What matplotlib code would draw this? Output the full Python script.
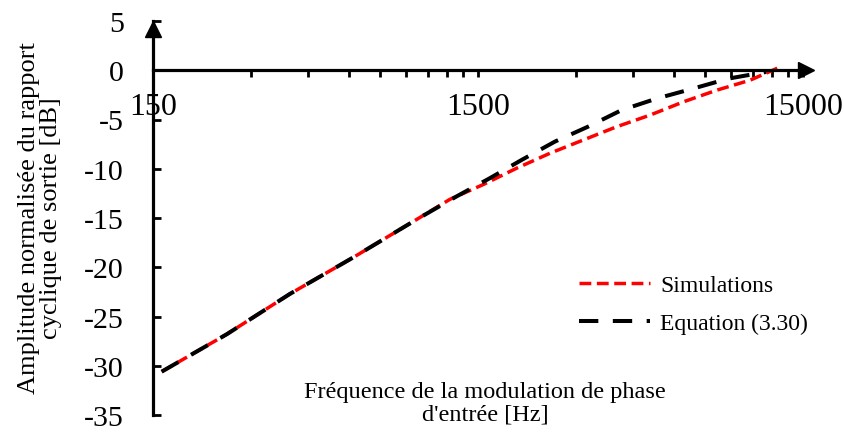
import matplotlib
matplotlib.use("Agg")
import matplotlib.pyplot as plt
from matplotlib.ticker import FixedLocator, NullFormatter

# values
freq_sim = [159.5, 253, 396, 620, 971, 1230, 1558, 1974, 2500, 3168, 4010, 5079, 6438, 8149, 10311, 12750]
amp_sim = [-30.6, -26.8, -22.7, -19.0, -15.15, -13.1, -11.6, -9.94, -8.42, -7.07, -5.73, -4.55, -3.2, -2.02, -1.01, 0.33]

freq_eq = [159.5, 253, 396, 620, 971, 1290, 1633, 2045, 2588, 3270, 4153, 5323, 6887, 8834, 11560]
amp_eq = [-30.6, -26.8, -22.7, -19.0, -15.15, -12.8, -10.95, -9.1, -7.24, -5.73, -4.04, -2.87, -1.86, -0.85, -0.17]

x_major = [150, 1500, 15000]
x_minor = [300, 450, 600, 750, 900, 1050, 1200, 1350,
           3000, 4500, 6000, 7500, 9000, 10500, 12000, 13500]
y_ticks = [-35, -30, -25, -20, -15, -10, -5, 0, 5]

plt.rcParams["font.family"] = ["Liberation Serif", "DejaVu Serif"]

fig = plt.figure(figsize=(8.45, 4.35), dpi=100)
ax = fig.add_axes([153 / 845, 19 / 435, 650 / 845, 394 / 435])

ax.plot(freq_sim, amp_sim, color="red", lw=2.5, dashes=(3.4, 1.6), label="Simulations")
ax.plot(freq_eq, amp_eq, color="black", lw=2.9, dashes=(4.8, 3.6), label="Equation (3.30)")

ax.set_xscale("log")
ax.set_xlim(150, 15000)
ax.set_ylim(-35, 5)
ax.xaxis.set_major_locator(FixedLocator(x_major))
ax.xaxis.set_minor_locator(FixedLocator(x_minor))
ax.xaxis.set_minor_formatter(NullFormatter())
ax.set_xticklabels([str(v) for v in x_major])
ax.set_yticks(y_ticks)
ax.set_yticklabels([str(v) for v in y_ticks])

for s in ["top", "right"]:
    ax.spines[s].set_visible(False)
ax.spines["bottom"].set_position(("data", 0))
ax.spines["left"].set_linewidth(2.3)
ax.spines["bottom"].set_linewidth(2.3)

ax.tick_params(axis="x", which="both", direction="out", length=5, width=2, labelsize=23, pad=11)
ax.tick_params(axis="y", direction="in", length=6, width=2, labelsize=21.5, pad=21)

# arrow heads
ax.plot([1.0, 1.01], [0, 0], color="black", lw=2.3, transform=ax.get_yaxis_transform(), clip_on=False)
ax.plot([1.005], [0], marker=">", ms=11, color="black", transform=ax.get_yaxis_transform(), clip_on=False)
ax.plot([150], [0.98], marker="^", ms=11, color="black", transform=ax.get_xaxis_transform(), clip_on=False)

ax.legend(loc="upper left", bbox_to_anchor=(567 / 845, 1 - 264 / 435), bbox_transform=fig.transFigure,
          frameon=False, fontsize=17, handlelength=3.0, handletextpad=0.45, labelspacing=0.7, borderpad=0)

fig.text(485 / 845, 1 - 404 / 435, "Fréquence de la modulation de phase\nd'entrée [Hz]",
         ha="center", va="center", fontsize=17.5, linespacing=1.1)
fig.text(40 / 845, 1 - 218 / 435, "Amplitude normalisée du rapport\ncyclique de sortie [dB]",
         ha="center", va="center", rotation=90, fontsize=19, linespacing=1.05)

fig.savefig("out.png", dpi=100)
